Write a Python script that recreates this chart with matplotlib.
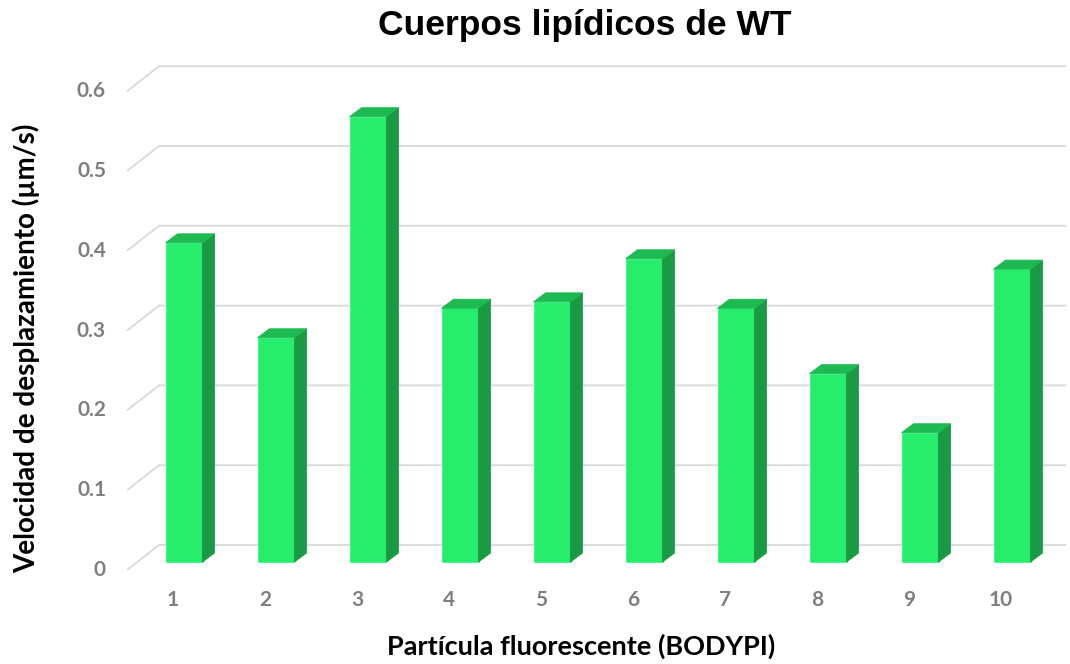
import numpy as np
import matplotlib.pyplot as plt
from matplotlib.patches import Polygon

particles = ['1', '2', '3', '4', '5', '6', '7', '8', '9', '10']
speed = [0.400, 0.281, 0.558, 0.318, 0.326, 0.380, 0.318, 0.236, 0.162, 0.367]
yticks = [0, 0.1, 0.2, 0.3, 0.4, 0.5, 0.6]
ytick_labels = ['0', '0.1', '0.2', '0.3', '0.4', '0.5', '0.6']

# pixel geometry of the fake 3d (oblique) projection
W, H = 1070, 664
px_cat = 92.0      # pixels per category
px_val = 798.0     # pixels per 1.0 of value
x0_px = 81.0       # pixel x of category 0 on the front plane
y0_px = 94.0       # pixel y (from bottom) of value 0 on the front plane

depth = (32 / px_cat, 25 / px_val)        # full wall depth
front = (11 / px_cat, 8 / px_val)         # bar front face offset
bar_d = (12 / px_cat, 9 / px_val)         # bar own depth
bar_w = 37 / px_cat

c_front = '#26EE6C'
c_side = '#1A9A43'
c_top = '#1DBA52'
c_grid = '#D9D9D9'
c_tick = '#7F7F7F'

fig = plt.figure(figsize=(W / 100, H / 100), dpi=100)
ax = fig.add_axes([0, 0, 1, 1])
ax.set_xlim(-x0_px / px_cat, (W - x0_px) / px_cat)
ax.set_ylim(-y0_px / px_val, (H - y0_px) / px_val)
ax.axis('off')

x_end = (1066 - x0_px) / px_cat
x_start = 0.5
for v, lab in zip(yticks, ytick_labels):
    ax.plot([x_start, x_start + depth[0], x_end], [v, v + depth[1], v + depth[1]],
            color=c_grid, lw=1.3, zorder=1, solid_capstyle='butt')
    ax.text((106 - x0_px) / px_cat, v, lab, ha='right', va='center',
            fontsize=15, fontweight='bold', color=c_tick, family='Lato')

xlab_y = ((H - 600) - y0_px) / px_val
xs = np.arange(1, len(particles) + 1)
for x, v, lab in zip(xs, speed, particles):
    l = x + front[0] - bar_w / 2
    r = l + bar_w
    b = front[1]
    t = front[1] + v
    dx, dy = bar_d
    ax.add_patch(Polygon([(l, b), (r, b), (r, t), (l, t)], closed=True,
                         facecolor=c_front, edgecolor='#3CF582', lw=0.6, zorder=3))
    ax.add_patch(Polygon([(r, b), (r + dx, b + dy), (r + dx, t + dy), (r, t)], closed=True,
                         facecolor=c_side, edgecolor=c_side, lw=0.6, zorder=3))
    ax.add_patch(Polygon([(l, t), (r, t), (r + dx, t + dy), (l + dx, t + dy)], closed=True,
                         facecolor=c_top, edgecolor=c_top, lw=0.6, zorder=3))
    ax.text(x, xlab_y, lab, ha='center', va='center', fontsize=15,
            fontweight='bold', color=c_tick, family='Lato')

fig.text(585 / W, 1 - 26 / H, 'Cuerpos lipídicos de WT', ha='center', va='center',
         fontsize=25.5, fontweight='bold', family='Liberation Sans')
fig.text(581 / W, 1 - 646 / H, 'Partícula fluorescente (BODYPI)', ha='center', va='center',
         fontsize=19.5, fontweight='bold', family='Lato')
fig.text(26 / W, 1 - 348 / H, 'Velocidad de desplazamiento (µm/s)', ha='center', va='center',
         rotation=90, fontsize=20, fontweight='bold', family='Lato')

fig.savefig('out.png', dpi=100)
